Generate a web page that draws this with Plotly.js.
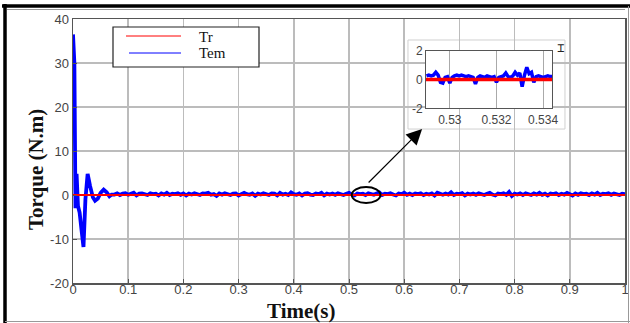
<!DOCTYPE html>
<html>
<head>
<meta charset="utf-8">
<script src="https://cdn.plot.ly/plotly-3.0.1.min.js"></script>
<style>html,body{margin:0;padding:0;background:#fff;}#chart{width:630px;height:323px;}</style>
</head>
<body>
<div id="chart"></div>
<script>
// ---- data ----
const seriesNames = ["Tr", "Tem"];
const trTime = [0, 1];
const trValues = [0, 0];

// start-up transient of electromagnetic torque
const temTransientTime = [0, 0.0025, 0.0045, 0.0065, 0.009, 0.012, 0.0155, 0.019, 0.0225, 0.0265, 0.031, 0.036, 0.040, 0.045, 0.050, 0.0555, 0.061, 0.066, 0.070];
const temTransientValues = [36.5, 30, -3, 4.8, -2.5, -4, -8, -11.8, -1, 4.8, 2, -0.5, -1.3, -0.8, 0.5, 1.2, 0.6, -0.3, 0.1];

// steady-state ripple, sampled every 5 ms from 0.075 s to 1 s
const steadyStart = 0.075, steadyStep = 0.005;
const temSteadyValues = [
 0.1, 0.35, 0.0, 0.3, 0.4, 0.05, 0.2, 0.5, -0.1, 0.3,
 0.35, 0.1, 0.0, 0.4, 0.2, 0.3, -0.1, 0.35, 0.1, 0.5,
 0.0, 0.3, 0.2, 0.4, 0.05, 0.35, -0.1, 0.3, 0.1, 0.4,
 0.2, 0.0, 0.35, 0.3, 0.5, 0.05, 0.2, -0.2, 0.35, 0.1,
 0.4, 0.2, 0.0, 0.3, 0.35, -0.1, 0.1, 0.5, 0.2, 0.05,
 0.35, -0.2, 0.3, 0.1, 0.4, 0.2, 0.0, 0.35, 0.3, -0.1,
 0.5, 0.1, 0.3, 0.0, 0.6, 0.2, 0.05, 0.35, -0.1, 0.3,
 0.4, 0.1, 0.0, 0.35, 0.2, 0.5, -0.1, 0.3, 0.1, 0.35,
 0.05, 0.4, 0.2, 0.0, 0.3, 0.5, 0.1, -0.1, 0.35, 0.2,
 0.3, 0.0, 0.4, 0.2, 0.05, 0.35, 0.6, 0.0, 0.3, 0.2,
 0.4, 0.1, -0.1, 0.35, 0.2, 0.5, 0.05, 0.3, 0.0, 0.35,
 0.2, 0.4, 0.0, 0.3, 0.1, 0.35, -0.1, 0.5, 0.2, 0.05,
 0.35, 0.1, 0.6, 0.0, 0.3, 0.2, 0.4, -0.1, 0.3, 0.1,
 0.35, 0.05, 0.4, 0.2, 0.0, 0.3, 0.5, 0.1, -0.1, 0.35,
 0.2, 0.4, 0.05, 0.7, -0.2, 0.3, 0.1, 0.35, 0.0, 0.4,
 0.2, 0.0, 0.35, 0.1, 0.5, 0.05, 0.3, -0.1, 0.35, 0.2,
 0.4, 0.0, 0.3, 0.1, 0.5, 0.2, -0.1, 0.35, 0.05, 0.4,
 0.2, 0.3, 0.0, 0.35, 0.1, 0.5, 0.0, 0.3, 0.2, 0.4,
 0.05, 0.35, 0.1, 0.0, 0.3, 0.2
];

// zoomed window (inset), sampled every 0.1 ms from 0.529 s
const zoomStart = 0.5290, zoomStep = 0.0001;
const temZoomValues = [
 0.25, 0.3, 0.25, 0.3, 0.5, 0.3, -0.2, -0.25, 0.15, 0.2,
 -0.25, 0.15, 0.25, 0.3, 0.25, 0.3, 0.25, 0.2, 0.25, 0.2,
 0.15, -0.3, 0.15, 0.25, 0.2, 0.15, 0.25, 0.2, 0.15, 0.2,
 -0.2, 0.15, 0.2, 0.25, 0.45, 0.2, 0.15, 0.25, 0.5, 0.3,
 0.45, -0.5, 0.3, 0.85, 0.4, 0.5, -0.2, 0.2, 0.25, 0.2,
 0.15, 0.2, 0.25, 0.2, 0.2
];
const trZoomTime = [0.5289, 0.5345];
const trZoomValues = [0, 0];

const mainXTicks = [0, 0.1, 0.2, 0.3, 0.4, 0.5, 0.6, 0.7, 0.8, 0.9, 1];
const mainXLabels = ["0", "0.1", "0.2", "0.3", "0.4", "0.5", "0.6", "0.7", "0.8", "0.9", "1"];
const mainYTicks = [-20, -10, 0, 10, 20, 30, 40];
const mainYLabels = ["-20", "-10", "0", "10", "20", "30", "40"];
const zoomXTicks = [0.530, 0.532, 0.534];
const zoomXLabels = ["0.53", "0.532", "0.534"];
const zoomYTicks = [-2, 0, 2];
const zoomYLabels = ["-2", "0", "2"];

// ---- build series ----
const temTime = temTransientTime.slice();
const temValues = temTransientValues.slice();
temSteadyValues.forEach((v, i) => { temTime.push(+(steadyStart + i * steadyStep).toFixed(4)); temValues.push(v); });
const temZoomTime = temZoomValues.map((v, i) => +(zoomStart + i * zoomStep).toFixed(5));

const BLUE = "#0000ff", RED = "#ff0000";
const tickFont = {family: "Liberation Sans, Arial, sans-serif", size: 13, color: "#444"};

const traces = [
  {x: temTime, y: temValues, name: seriesNames[1], type: "scatter", mode: "lines", line: {color: BLUE, width: 3.8}, xaxis: "x", yaxis: "y"},
  {x: trTime, y: trValues, name: seriesNames[0], type: "scatter", mode: "lines", line: {color: RED, width: 2}, xaxis: "x", yaxis: "y"},
  {x: temZoomTime, y: temZoomValues, name: seriesNames[1], type: "scatter", mode: "lines", line: {color: BLUE, width: 3.5}, xaxis: "x2", yaxis: "y2", showlegend: false},
  {x: trZoomTime, y: trZoomValues, name: seriesNames[0], type: "scatter", mode: "lines", line: {color: RED, width: 3.5}, xaxis: "x2", yaxis: "y2", showlegend: false}
];

// paper helpers: plot area spans px 73..625 horizontally, 19..283 vertically
const L = 73, W = 552, T = 19, H = 264;
const px = v => (v - L) / W;
const py = v => (T + H - v) / H;

const layout = {
  width: 630, height: 323,
  margin: {l: L, r: 630 - L - W, t: T, b: 323 - T - H, pad: 0},
  paper_bgcolor: "#ffffff", plot_bgcolor: "#ffffff",
  showlegend: false,
  xaxis: {
    domain: [0, 1], range: [0, 1], tickvals: mainXTicks, ticktext: mainXLabels,
    showgrid: true, gridcolor: "#bcbcbc", gridwidth: 1.6,
    showline: true, linecolor: "#555", linewidth: 1.5, mirror: true,
    ticks: "inside", ticklen: 4, tickcolor: "#555", tickfont: tickFont, zeroline: false,
    ticklabelstandoff: -6
  },
  yaxis: {
    domain: [0, 1], range: [-20, 40], tickvals: mainYTicks, ticktext: mainYLabels,
    showgrid: true, gridcolor: "#bcbcbc", gridwidth: 1.6,
    showline: true, linecolor: "#555", linewidth: 1.5, mirror: true,
    ticks: "inside", ticklen: 4, tickcolor: "#555", tickfont: tickFont, zeroline: false
  },
  xaxis2: {
    domain: [px(426), px(552)], range: [0.52898, 0.53438], anchor: "y2",
    tickvals: zoomXTicks, ticktext: zoomXLabels,
    showgrid: true, gridcolor: "#aaaaaa", gridwidth: 1,
    showline: true, linecolor: "#555", linewidth: 1, mirror: true,
    ticks: "", tickfont: {family: "Liberation Sans, Arial, sans-serif", size: 12, color: "#444"}, zeroline: false
  },
  yaxis2: {
    domain: [py(108.3), py(50.7)], range: [-2, 2], anchor: "x2",
    tickvals: zoomYTicks, ticktext: zoomYLabels,
    showgrid: false,
    showline: true, linecolor: "#555", linewidth: 1, mirror: true,
    ticks: "", tickfont: {family: "Liberation Sans, Arial, sans-serif", size: 12, color: "#444"}, zeroline: false
  },
  shapes: [
    // inset white panel (drawn in the inset subplot, below its traces)
    {type: "rect", xref: "x2 domain", yref: "y2 domain", x0: -0.143, x1: 1.103, y0: -0.36, y1: 1.186,
     fillcolor: "#ffffff", line: {color: "#d0d0d0", width: 1}, layer: "below"},
    // zoom ellipse
    {type: "circle", xref: "x", yref: "y", x0: 0.505, x1: 0.557, y0: -1.8, y1: 1.8,
     line: {color: "#000", width: 2}, layer: "above"},
    // legend box and lines
    {type: "rect", xref: "paper", yref: "paper", x0: px(113), x1: px(259), y0: py(67), y1: py(27),
     fillcolor: "#ffffff", line: {color: "#222", width: 1.2}, layer: "above"},
    {type: "line", xref: "paper", yref: "paper", x0: px(126), x1: px(181), y0: py(36), y1: py(36),
     line: {color: RED, width: 1}, layer: "above"},
    {type: "line", xref: "paper", yref: "paper", x0: px(129), x1: px(181), y0: py(53), y1: py(53),
     line: {color: BLUE, width: 1}, layer: "above"},
    // outer figure frame
    {type: "line", xref: "paper", yref: "paper", x0: px(2), x1: px(630), y0: py(6), y1: py(6),
     line: {color: "#000", width: 3.5}, layer: "above"},
    {type: "line", xref: "paper", yref: "paper", x0: px(5), x1: px(5), y0: py(4), y1: py(323),
     line: {color: "#000", width: 3.5}, layer: "above"},
    {type: "line", xref: "paper", yref: "paper", x0: px(7), x1: px(625), y0: py(9.5), y1: py(9.5),
     line: {color: "#999", width: 1}, layer: "above"},
    {type: "line", xref: "paper", yref: "paper", x0: px(628.5), x1: px(628.5), y0: py(6), y1: py(323),
     line: {color: "#999", width: 1}, layer: "above"},
    {type: "line", xref: "paper", yref: "paper", x0: px(5), x1: px(630), y0: py(321.5), y1: py(321.5),
     line: {color: "#999", width: 1}, layer: "above"}
  ],
  annotations: [
    {xref: "paper", yref: "paper", x: px(197), y: py(36.5), xanchor: "left", yanchor: "middle", showarrow: false,
     text: seriesNames[0], font: {family: "Liberation Serif, Times New Roman, serif", size: 15, color: "#111"}},
    {xref: "paper", yref: "paper", x: px(197), y: py(52.5), xanchor: "left", yanchor: "middle", showarrow: false,
     text: seriesNames[1], font: {family: "Liberation Serif, Times New Roman, serif", size: 15, color: "#111"}},
    {xref: "paper", yref: "paper", x: px(36), y: py(170), xanchor: "center", yanchor: "middle", showarrow: false,
     textangle: -90, text: "<b>Torque (N.m)</b>", font: {family: "Liberation Serif, Times New Roman, serif", size: 21, color: "#111"}},
    {xref: "paper", yref: "paper", x: px(301), y: py(311), xanchor: "center", yanchor: "middle", showarrow: false,
     text: "<b>Time(s)</b>", font: {family: "Liberation Serif, Times New Roman, serif", size: 21, color: "#111"}},
    // arrow from ellipse to inset
    {xref: "x", yref: "y", x: (422 - 72.7) / 552.3, y: (195 - 129) / 4.4, ax: -55, ay: 55,
     showarrow: true, text: "", arrowhead: 2, arrowsize: 2.6, arrowwidth: 1.2, arrowcolor: "#000"},
    // inset toolbar glyph
    {xref: "paper", yref: "paper", x: px(560), y: py(48), xanchor: "center", yanchor: "middle", showarrow: false,
     text: "⌶", font: {family: "DejaVu Sans Mono, DejaVu Sans", size: 12, color: "#222"}}
  ]
};

Plotly.newPlot("chart", traces, layout, {displayModeBar: false, staticPlot: true});
</script>
</body>
</html>
